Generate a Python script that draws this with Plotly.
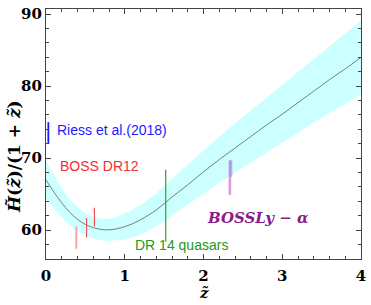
import plotly.graph_objects as go

# Model curve H(z)/(1+z) with band
z_grid = [0.0, 0.1, 0.2, 0.3, 0.4, 0.5, 0.6, 0.7, 0.8, 0.9, 1.0, 1.1, 1.2, 1.4,
          1.6, 1.8, 2.0, 2.2, 2.4, 2.6, 2.8, 3.0, 3.2, 3.4, 3.6, 3.8, 4.0]
h_mid = [67.0, 65.3, 63.8, 62.5, 61.5, 60.8, 60.35, 60.1, 60.05, 60.2, 60.5, 60.9, 61.45, 62.8,
         64.6, 66.3, 68.1, 69.8, 71.4, 73.0, 74.6, 76.1, 77.7, 79.3, 80.9, 82.4, 84.0]
h_upper = [69.6, 67.6, 65.8, 64.3, 63.15, 62.35, 61.85, 61.6, 61.6, 61.85, 62.3, 62.85, 63.5, 65.1,
           67.15, 69.1, 71.1, 73.0, 74.8, 76.6, 78.4, 80.1, 81.9, 83.7, 85.55, 87.3, 89.1]
h_lower = [64.4, 63.0, 61.8, 60.7, 59.85, 59.25, 58.85, 58.6, 58.5, 58.55, 58.7, 58.95, 59.4, 60.5,
           62.05, 63.5, 65.1, 66.6, 68.0, 69.4, 70.8, 72.1, 73.5, 74.9, 76.25, 77.5, 78.9]

# Observational points (z, value, error)
riess_z = [0.03]
riess_h = [73.5]
riess_e = [1.5]

boss_z = [0.385, 0.515, 0.615]
boss_h = [58.95, 60.35, 61.8]
boss_e = [1.55, 1.35, 1.3]

dr14_z = [1.52]
dr14_h = [63.4]
dr14_e = [5.0]

lya_z = [2.335, 2.35]
lya_h = [67.3, 68.55]
lya_e = [2.4, 1.15]

x_ticks = [0, 1, 2, 3, 4]
y_ticks = [60, 70, 80, 90]

fig = go.Figure()

fig.add_trace(go.Scatter(x=z_grid, y=h_upper, mode="lines", line=dict(width=0),
                         hoverinfo="skip", showlegend=False))
fig.add_trace(go.Scatter(x=z_grid, y=h_lower, mode="lines", line=dict(width=0),
                         fill="tonexty", fillcolor="rgba(0,255,255,0.2)",
                         hoverinfo="skip", showlegend=False))
fig.add_trace(go.Scatter(x=z_grid, y=h_mid, mode="lines", line=dict(color="#606060", width=0.8),
                         line_shape="spline", showlegend=False))

def bars(x, y, e, color, thick):
    fig.add_trace(go.Scatter(
        x=x, y=y, mode="markers",
        marker=dict(size=1, color="rgba(0,0,0,0)"),
        error_y=dict(type="data", array=e, color=color, thickness=thick, width=0),
        showlegend=False))

bars(riess_z, riess_h, riess_e, "#1a1aff", 1.8)
bars(boss_z[:1], boss_h[:1], boss_e[:1], "#f7a0a0", 1.8)
bars(boss_z[1:], boss_h[1:], boss_e[1:], "#f04848", 1.1)
bars(dr14_z, dr14_h, dr14_e, "#2fb52f", 1.3)
bars(lya_z[:1], lya_h[:1], lya_e[:1], "rgba(210,120,210,0.75)", 2.6)
bars(lya_z[1:], lya_h[1:], lya_e[1:], "rgba(140,150,230,0.6)", 2.6)

sans = "Liberation Sans"
serif = "DejaVu Serif"

ann = [
    dict(x=0.12, y=73.9, text="Riess et al.(2018)", font=dict(family=sans, size=14, color="#1a1aff")),
    dict(x=0.158, y=68.9, text="BOSS DR12", font=dict(family=sans, size=14, color="#f03030")),
    dict(x=1.104, y=57.9, text="DR 14 quasars", font=dict(family=sans, size=14, color="#229922")),
    dict(x=2.02, y=61.75, text="<b><i>BOSSLy</i> − <i>α</i></b>",
         font=dict(family=serif, size=15, color="#8b1a8b")),
]
for a in ann:
    fig.add_annotation(xref="x", yref="y", xanchor="left", yanchor="middle",
                       showarrow=False, **a)

fig.add_annotation(xref="paper", yref="paper", x=-0.103, y=0.41, textangle=-90,
                   xanchor="center", yanchor="middle",
                   text="<b><i>H̃</i>(<i>z̃</i>)/(1 + <i>z̃</i>)</b>", showarrow=False,
                   font=dict(family=serif, size=17, color="black"))
fig.add_annotation(xref="paper", yref="paper", x=0.5, y=-0.135, xanchor="center", yanchor="middle",
                   text="<b><i>z̃</i></b>", showarrow=False,
                   font=dict(family=serif, size=15, color="black"))

axis_common = dict(showgrid=False, zeroline=False, showline=True, linecolor="#444",
                   linewidth=1.2, mirror="ticks", ticks="inside", ticklen=5,
                   tickcolor="#444", tickwidth=1,
                   tickfont=dict(family=serif, size=15, color="black"))

fig.update_xaxes(range=[0, 4], tickvals=x_ticks, ticktext=[f"<b>{t}</b>" for t in x_ticks],
                 minor=dict(dtick=0.2, ticks="inside", ticklen=3, tickcolor="#444"),
                 ticklabelstandoff=3, **axis_common)
fig.update_yaxes(range=[56, 90.7], tickvals=y_ticks, ticktext=[f"<b>{t}</b>" for t in y_ticks],
                 minor=dict(dtick=2, ticks="inside", ticklen=3, tickcolor="#444"),
                 ticklabelstandoff=0, **axis_common)

fig.update_layout(width=371, height=305, margin=dict(l=46, r=9, t=5, b=46),
                  plot_bgcolor="white", paper_bgcolor="white")

fig.write_html("out.html", config={"displayModeBar": False},
               post_script="document.body.style.margin='0';")
